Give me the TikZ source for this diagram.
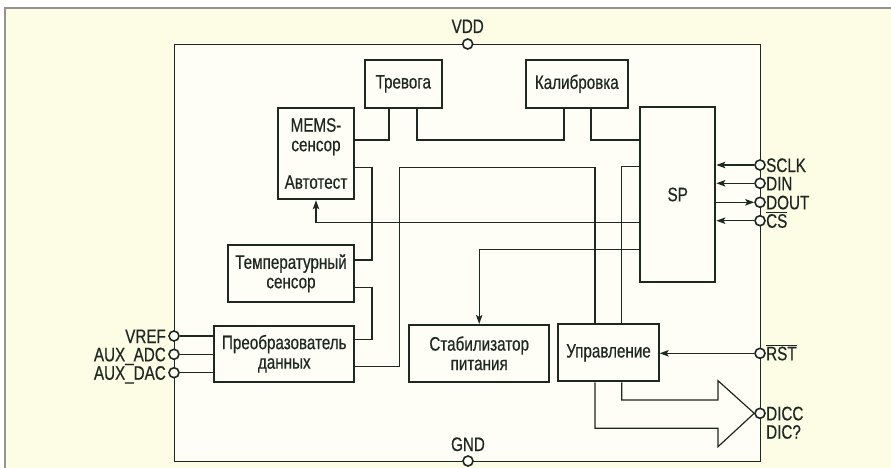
\documentclass[tikz,border=0pt]{standalone}
\usepackage{fontspec}
\setmainfont{Liberation Sans}[FakeStretch=0.78,FakeBold=0.5]
\usetikzlibrary{arrows.meta}
\definecolor{bgout}{RGB}{253,252,228}
\definecolor{bgin}{RGB}{254,254,246}
\definecolor{ink}{RGB}{30,40,34}
\begin{document}
\begin{tikzpicture}[x=1pt,y=-1pt,
  font=\fontsize{19.5}{19.5}\selectfont,
  line/.style={draw=ink,line width=1.2pt},
  blk/.style={draw=ink,line width=2pt,fill=bgin,inner sep=0pt,align=center,text=ink},
  pin/.style={circle,draw=ink,line width=1.6pt,fill=bgin,minimum size=10pt,inner sep=0pt},
  arr/.style={line,-{Stealth[length=9pt,width=6.5pt,inset=2pt]}},
  lbl/.style={inner sep=0pt,text=ink}]
\useasboundingbox (0,0) rectangle (891,468);
\fill[white] (0,0) rectangle (891,468);
\fill[bgout] (5,8) rectangle (891,468);
\draw[gray!85,line width=2pt] (5,468) -- (5,8) -- (891,8);
% chip outline
\node[draw=ink,line width=1.4pt,fill=bgin,minimum width=586pt,minimum height=417pt,inner sep=0pt,anchor=north west] (chip) at (174,44) {};
% blocks
\node[blk,minimum width=76.7pt,minimum height=47.7pt] (trev) at (403.3,83.8) {Тревога};
\node[blk,minimum width=101.7pt,minimum height=47.7pt] (kal) at (576.8,83.8) {Калибровка};
\node[blk,minimum width=76pt,minimum height=91.6pt] (mems) at (316,153.5) {MEMS-\\сенсор\\[18pt]Автотест};
\node[blk,minimum width=75.3pt,minimum height=174.4pt] (sp) at (677.7,194.5) {SP};
\node[blk,minimum width=126.6pt,minimum height=56.7pt] (temp) at (291,273.3) {Температурный\\сенсор};
\node[blk,minimum width=140pt,minimum height=56pt] (conv) at (284.3,353.7) {Преобразователь\\данных};
\node[blk,minimum width=139.7pt,minimum height=56.7pt] (stab) at (479.2,353.3) {Стабилизатор\\питания};
\node[blk,minimum width=100.4pt,minimum height=57pt] (upr) at (608.5,352.8) {Управление};
% pins
\node[pin] (vdd) at (467.7,44) {};
\node[pin] (gnd) at (468,461) {};
\node[pin] (sclk) at (760,165) {};
\node[pin] (din) at (760,183.3) {};
\node[pin] (dout) at (760,202.3) {};
\node[pin] (cs) at (760,220.7) {};
\node[pin] (rst) at (760,353.3) {};
\node[pin] (dicc) at (760,413.3) {};
\node[pin] (vref) at (174,336) {};
\node[pin] (auxadc) at (174,354.3) {};
\node[pin] (auxdac) at (174,372.7) {};
% pin labels
\node[lbl,anchor=base] at (467.7,33) {VDD};
\node[lbl,anchor=base] at (468,451) {GND};
\node[lbl,anchor=base west] at (766,172) {SCLK};
\node[lbl,anchor=base west] at (766,190.3) {DIN};
\node[lbl,anchor=base west] at (766,209.3) {DOUT};
\node[lbl,anchor=base west] at (766,227.7) {$\overline{\mbox{CS}}$};
\node[lbl,anchor=base west] at (766,360.3) {$\overline{\mbox{RST}}$};
\node[lbl,anchor=base west] at (766,420.3) {DICC};
\node[lbl,anchor=base west] at (766,438.7) {DIC?};
\node[lbl,anchor=base east] at (166,343) {VREF};
\node[lbl,anchor=base east] at (166,361.3) {AUX\_ADC};
\node[lbl,anchor=base east] at (166,379.7) {AUX\_DAC};
% connectors
\draw[line] (mems.east |- 0,140) -| (trev.south -| 389,0);
\draw[line] (trev.south -| 417,0) |- (564,140) -- (kal.south -| 564,0);
\draw[line] (kal.south -| 591,0) |- (sp.west |- 0,140);
\draw[line] (mems.east |- 0,167.7) -| (372,260) -- (temp.east |- 0,260);
\draw[line] (temp.east |- 0,287.3) -| (372,339.3) -- (conv.east |- 0,339.3);
\draw[line] (conv.east |- 0,366.7) -| (399.3,167.7) -| (upr.north -| 595,0);
\draw[line] (sp.west |- 0,166.7) -| (upr.north -| 621.7,0);
\draw[arr] (sp.west |- 0,222.3) -| (mems.south);
\draw[arr] (sp.west |- 0,249.3) -| (stab.north);
\draw[line,line join=miter] (upr.south -| 621.7,0) |- (718,400) -- (718,380.7) -- (dicc.west) -- (718,446.7) -- (718,428.3) -| (upr.south -| 595,0);
\draw[arr] (rst) -- (upr.east |- rst);
\draw[arr] (sclk) -- (sp.east |- sclk);
\draw[arr] (din) -- (sp.east |- din);
\draw[arr] (sp.east |- dout) -- (dout);
\draw[arr] (cs) -- (sp.east |- cs);
\draw[line] (vref) -- (conv.west |- vref);
\draw[line] (auxadc) -- (conv.west |- auxadc);
\draw[line] (auxdac) -- (conv.west |- auxdac);
\end{tikzpicture}
\end{document}
